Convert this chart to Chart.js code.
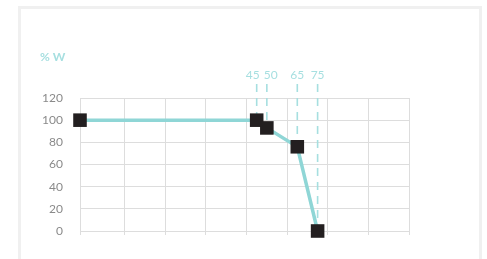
<!DOCTYPE html>
<html>
<head>
<meta charset="utf-8">
<script src="https://cdn.jsdelivr.net/npm/chart.js@4.4.1/dist/chart.umd.min.js"></script>
<style>
  html, body { margin: 0; padding: 0; background: #fff; }
  #wrap { position: relative; width: 487px; height: 259px; overflow: hidden; }
  #card { position: absolute; left: 18px; top: 6px; width: 464px; height: 270px; border: 3px solid #f0f0f0; box-sizing: border-box; }
  canvas { position: absolute; left: 0; top: 0; }
</style>
</head>
<body>
<div id="wrap">
  <div id="card"></div>
  <canvas id="c" width="487" height="259"></canvas>
</div>
<script>
const temperatures = [-42, 45, 50, 65, 75];
const powerPercent = [100, 100, 93, 76, 0];
const markedLabels = ['45', '50', '65', '75'];
const markedX = [45, 50, 65, 75];
const markedY = [100, 93, 76, 0];
const yTicks = [0, 20, 40, 60, 80, 100, 120];
const yTitle = '% W';

const teal = '#8fd6d6';
const dashTeal = '#a6dfe0';

const markersPlugin = {
  id: 'markers',
  beforeDatasetsDraw(chart) {
    const ctx = chart.ctx;
    const xs = chart.scales.x, ys = chart.scales.y;
    ctx.save();
    ctx.font = '12px Lato';
    ctx.textBaseline = 'middle';
    ctx.textAlign = 'center';
    const pos = markedX.map(v => xs.getPixelForValue(v));
    const widths = markedLabels.map(t => ctx.measureText(t).width);
    const lab = pos.slice();
    for (let i = 0; i < lab.length - 1; i++) {
      const need = (widths[i] + widths[i + 1]) / 2 + 4;
      const d = lab[i + 1] - lab[i];
      if (d < need) {
        const push = (need - d) / 2;
        lab[i] -= push;
        lab[i + 1] += push;
      }
    }
    ctx.fillStyle = dashTeal;
    markedLabels.forEach((t, i) => ctx.fillText(t, lab[i], 75));
    ctx.strokeStyle = dashTeal;
    ctx.lineWidth = 1.6;
    ctx.setLineDash([8, 6]);
    markedX.forEach((v, i) => {
      const x = pos[i];
      ctx.beginPath();
      ctx.moveTo(x, 84);
      ctx.lineTo(x, ys.getPixelForValue(markedY[i]));
      ctx.stroke();
    });
    ctx.setLineDash([]);
    ctx.textAlign = 'left';
    ctx.font = 'bold 12px Lato';
    ctx.fillStyle = dashTeal;
    ctx.fillText(yTitle, 40, 57);
    ctx.restore();
  }
};

new Chart(document.getElementById('c'), {
  type: 'scatter',
  data: {
    datasets: [{
      data: temperatures.map((t, i) => ({ x: t, y: powerPercent[i] })),
      showLine: true,
      clip: false,
      borderColor: teal,
      borderWidth: 3.5,
      pointStyle: 'rect',
      pointRadius: 9.6,
      pointHoverRadius: 9.6,
      pointBackgroundColor: '#231f20',
      pointBorderColor: '#231f20',
      pointBorderWidth: 0,
      tension: 0
    }]
  },
  options: {
    responsive: false,
    animation: false,
    events: [],
    layout: { padding: { left: 0, right: 78, top: 98, bottom: 0 } },
    plugins: { legend: { display: false }, tooltip: { enabled: false } },
    scales: {
      x: {
        type: 'linear',
        min: -42,
        max: 120,
        ticks: { display: false, stepSize: 20 },
        grid: { color: '#dddddd', lineWidth: 1, tickLength: 4, drawTicks: true },
        border: { color: '#dddddd', width: 1 },
        afterFit(s) { s.height = 28; }
      },
      y: {
        min: 0,
        max: 120,
        afterBuildTicks(s) { s.ticks = yTicks.map(v => ({ value: v })); },
        ticks: { color: '#8a8a8a', font: { family: 'Lato', size: 12 }, padding: 17 },
        grid: { color: '#dddddd', lineWidth: 1, drawTicks: false },
        border: { color: '#dddddd', width: 1 },
        afterFit(s) { s.width = 80; }
      }
    }
  },
  plugins: [markersPlugin]
});
</script>
</body>
</html>
